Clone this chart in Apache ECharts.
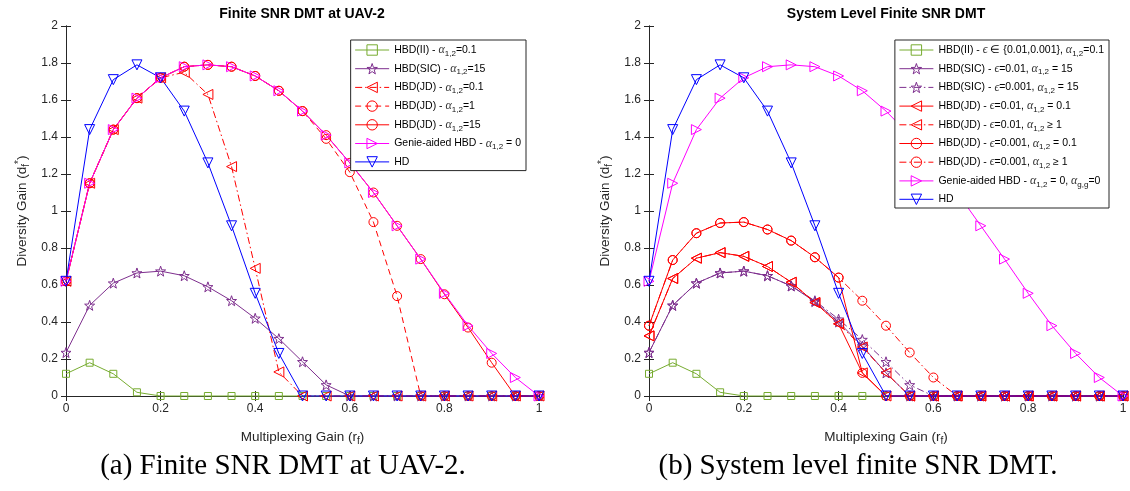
<!DOCTYPE html>
<html><head><meta charset="utf-8">
<script src="https://cdn.jsdelivr.net/npm/echarts/dist/echarts.min.js"></script>
<style>html,body{margin:0;padding:0;background:#fff}#c{width:1130px;height:491px}</style>
</head><body><div id="c"></div>
<script>
// ---- data ----
const r = [0,0.05,0.1,0.15,0.2,0.25,0.3,0.35,0.4,0.45,0.5,0.55,0.6,0.65,0.7,0.75,0.8,0.85,0.9,0.95,1];
const xTicks = [0,0.2,0.4,0.6,0.8,1];
const yTicks = [0,0.2,0.4,0.6,0.8,1,1.2,1.4,1.6,1.8,2];

// (a) Finite SNR DMT at UAV-2
const a_II    = [0.12,0.18,0.12,0.02,0,0,0,0,0,0,0,0,0,0,0,0,0,0,0,0,0];
const a_SIC15 = [0.235,0.49,0.61,0.665,0.675,0.65,0.59,0.515,0.42,0.31,0.185,0.06,0,0,0,0,0,0,0,0,0];
const a_JD01  = [0.62,1.15,1.44,1.61,1.72,1.75,1.63,1.24,0.69,0.13,0,0,0,0,0,0,0,0,0,0,0];
const a_JD1   = [0.62,1.15,1.44,1.61,1.72,1.78,1.79,1.78,1.73,1.65,1.54,1.39,1.21,0.94,0.54,0,0,0,0,0,0];
const a_JD15  = [0.62,1.15,1.44,1.61,1.72,1.78,1.79,1.78,1.73,1.65,1.54,1.41,1.26,1.10,0.92,0.74,0.55,0.37,0.18,0,0];
const a_Genie = [0.62,1.15,1.44,1.61,1.72,1.78,1.79,1.78,1.73,1.65,1.54,1.41,1.26,1.10,0.92,0.74,0.555,0.38,0.23,0.10,0];
const a_HD    = [0.62,1.44,1.71,1.79,1.72,1.54,1.26,0.92,0.555,0.23,0,0,0,0,0,0,0,0,0,0,0];

// (b) System level finite SNR DMT
const b_II        = [0.12,0.18,0.12,0.02,0,0,0,0,0,0,0,0,0,0,0,0,0,0,0,0,0];
const b_SIC_e01   = [0.235,0.49,0.61,0.665,0.675,0.65,0.595,0.51,0.40,0.27,0.125,0,0,0,0,0,0,0,0,0,0];
const b_SIC_e001  = [0.235,0.49,0.61,0.665,0.675,0.65,0.595,0.515,0.415,0.305,0.185,0.06,0,0,0,0,0,0,0,0,0];
const b_JD_e01_a01  = [0.325,0.635,0.745,0.775,0.755,0.70,0.615,0.505,0.39,0.125,0,0,0,0,0,0,0,0,0,0,0];
const b_JD_e01_a1   = [0.325,0.635,0.745,0.775,0.755,0.70,0.615,0.505,0.39,0.265,0.125,0,0,0,0,0,0,0,0,0,0];
const b_JD_e001_a01 = [0.38,0.735,0.88,0.935,0.94,0.90,0.84,0.75,0.64,0.125,0,0,0,0,0,0,0,0,0,0,0];
const b_JD_e001_a1  = [0.38,0.735,0.88,0.935,0.94,0.90,0.84,0.75,0.64,0.515,0.38,0.235,0.10,0,0,0,0,0,0,0,0];
const b_Genie = [0.62,1.15,1.44,1.61,1.72,1.78,1.79,1.78,1.73,1.65,1.54,1.41,1.26,1.10,0.92,0.74,0.555,0.38,0.23,0.10,0];
const b_HD    = [0.62,1.44,1.71,1.79,1.72,1.54,1.26,0.92,0.555,0.23,0,0,0,0,0,0,0,0,0,0,0];

const titles = ['Finite SNR DMT at UAV-2', 'System Level Finite SNR DMT'];
const captions = ['(a) Finite SNR DMT at UAV-2.', '(b) System level finite SNR DMT.'];
const xName = 'Multiplexing Gain (r{sub|f})';
const yName = 'Diversity Gain (d{sub|f}{sup|*})';

const namesA = ['a_II','a_SIC','a_JD01','a_JD1','a_JD15','a_Genie','HD'];
const labelsA = [
  'HBD(II) - {a|α}{s|1,2}=0.1',
  'HBD(SIC) - {a|α}{s|1,2}=15',
  'HBD(JD) - {a|α}{s|1,2}=0.1',
  'HBD(JD) - {a|α}{s|1,2}=1',
  'HBD(JD) - {a|α}{s|1,2}=15',
  'Genie-aided HBD - {a|α}{s|1,2} = 0',
  'HD'
];
const namesB = ['b_II','b_SIC1','b_SIC2','b_JD1','b_JD2','b_JD3','b_JD4','b_Genie','HD'];
const labelsB = [
  'HBD(II) - {a|ϵ} ∈ {0.01,0.001}, {a|α}{s|1,2}=0.1',
  'HBD(SIC) - {a|ϵ}=0.01, {a|α}{s|1,2} = 15',
  'HBD(SIC) - {a|ϵ}=0.001, {a|α}{s|1,2} = 15',
  'HBD(JD) - {a|ϵ}=0.01, {a|α}{s|1,2} = 0.1',
  'HBD(JD) - {a|ϵ}=0.01, {a|α}{s|1,2} ≥ 1',
  'HBD(JD) - {a|ϵ}=0.001, {a|α}{s|1,2} = 0.1',
  'HBD(JD) - {a|ϵ}=0.001, {a|α}{s|1,2} ≥ 1',
  'Genie-aided HBD - {a|α}{s|1,2} = 0, {a|α}{s|g,g}=0',
  'HD'
];
// ---- style ----
const C = {green:'#77AC30', purple:'#7E2F8E', red:'#FF0000', mag:'#FF00FF', blue:'#0000FF'};
const STAR = 'path://M0,-10L2.35,-3.24L9.51,-3.09L3.8,1.24L5.88,8.09L0,4L-5.88,8.09L-3.8,1.24L-9.51,-3.09L-2.35,-3.24Z';
const DASHDOT = [7,3,1.5,3];
const DASH = [6,4];
const AX = '#262626';
const FONT = '"Liberation Sans", Arial, Helvetica, sans-serif';

function S(name, data, g, color, symbol, size, dash, rot){
  return {
    type:'line', name, xAxisIndex:g*2, yAxisIndex:g*2,
    data: r.map((x,i)=>[x,data[i]]),
    symbol, symbolSize:size, symbolRotate:rot||0, showAllSymbol:true,
    itemStyle:{color:'rgba(255,255,255,0)', borderColor:color, borderWidth:1},
    lineStyle:{color, width:1, type:dash||'solid'},
    emphasis:{disabled:true}, silent:true, clip:false
  };
}
const sym = {sq:['rect',7,0], star:[STAR,10,0], tl:['triangle',10,90], tr:['triangle',10,-90], td:['triangle',10,180], ci:['circle',9,0]};
function SS(name,data,g,color,k,dash){ const s=sym[k]; return S(name,data,g,color,s[0],s[1],dash,s[2]); }

const series = [
  SS('a_II',a_II,0,C.green,'sq'),
  SS('a_SIC',a_SIC15,0,C.purple,'star'),
  SS('a_JD01',a_JD01,0,C.red,'tl',DASHDOT),
  SS('a_JD1',a_JD1,0,C.red,'ci',DASH),
  SS('a_JD15',a_JD15,0,C.red,'ci'),
  SS('a_Genie',a_Genie,0,C.mag,'tr'),
  SS('HD',a_HD,0,C.blue,'td'),
  SS('b_II',b_II,1,C.green,'sq'),
  SS('b_SIC1',b_SIC_e01,1,C.purple,'star'),
  SS('b_SIC2',b_SIC_e001,1,C.purple,'star',DASHDOT),
  SS('b_JD1',b_JD_e01_a01,1,C.red,'tl'),
  SS('b_JD2',b_JD_e01_a1,1,C.red,'tl',DASHDOT),
  SS('b_JD3',b_JD_e001_a01,1,C.red,'ci'),
  SS('b_JD4',b_JD_e001_a1,1,C.red,'ci',DASHDOT),
  SS('b_Genie',b_Genie,1,C.mag,'tr'),
  SS('HD',b_HD,1,C.blue,'td')
];

const labelMap = {};
namesA.forEach((n,i)=>labelMap[n]=labelsA[i]);
namesB.forEach((n,i)=>labelMap[n]=labelsB[i]);

const richLeg = {
  a:{fontFamily:'"Liberation Serif", "DejaVu Serif", serif', fontStyle:'italic', fontSize:12, color:'#333'},
  s:{fontFamily:FONT, fontSize:8, color:'#111', padding:[7,0,0,0]}
};
function legend(names, right){
  return {
    data:names, orient:'vertical', right, top:40, selectedMode:false,
    itemWidth:34, itemHeight:13, itemGap:5.2,
    backgroundColor:'#fff', borderColor:AX, borderWidth:1, borderRadius:0,
    padding:[4,5,3,4],
    lineStyle:{width:1},
    itemStyle:{color:'rgba(255,255,255,0)', borderWidth:1},
    textStyle:{fontFamily:FONT, fontSize:10.5, color:'#000', rich:richLeg},
    formatter: n => labelMap[n]
  };
}
const richAx = {
  sub:{fontFamily:FONT, fontSize:10, color:AX, padding:[7,0,0,0]},
  sup:{fontFamily:FONT, fontSize:10, color:AX, padding:[0,0,6,0]}
};
function xAx(g, top){
  return {
    type:'value', gridIndex:g, min:0, max:1, interval:0.2, position: top?'top':'bottom',
    axisLine:{show:true, lineStyle:{color:AX, width:1}},
    axisTick:{show:true, inside:true, length:5, lineStyle:{color:AX}},
    axisLabel:{show:!top, color:AX, fontFamily:FONT, fontSize:12, margin:7},
    splitLine:{show:false},
    name: top?'':xName, nameLocation:'middle', nameGap:33,
    nameTextStyle:{color:AX, fontFamily:FONT, fontSize:13.5, rich:richAx}
  };
}
function yAx(g, right){
  return {
    type:'value', gridIndex:g, min:0, max:2, interval:0.2, position: right?'right':'left',
    axisLine:{show:true, lineStyle:{color:AX, width:1}},
    axisTick:{show:true, inside:true, length:5, lineStyle:{color:AX}},
    axisLabel:{show:!right, color:AX, fontFamily:FONT, fontSize:12, margin:8},
    splitLine:{show:false},
    name: right?'':yName, nameLocation:'middle', nameGap:35,
    nameTextStyle:{color:AX, fontFamily:FONT, fontSize:13.5, rich:richAx}
  };
}

function txt(x,y,text,font){
  return {type:'text', x, y, silent:true, style:{text, font, fill:'#000', textAlign:'center', textVerticalAlign:'middle', align:'center', verticalAlign:'middle'}};
}

const option = {
  animation:false,
  backgroundColor:'#fff',
  grid:[
    {left:66, right:591, top:26, bottom:95, containLabel:false},
    {left:649, right:7, top:26, bottom:95, containLabel:false}
  ],
  xAxis:[xAx(0,false), xAx(0,true), xAx(1,false), xAx(1,true)],
  yAxis:[yAx(0,false), yAx(0,true), yAx(1,false), yAx(1,true)],
  legend:[legend(namesA, 604), legend(namesB, 21)],
  series,
  graphic:[
    txt(302,14,titles[0],'bold 14px '+FONT),
    txt(886,14,titles[1],'bold 14px '+FONT),
    txt(283,466,captions[0],'29px "Liberation Serif", serif'),
    txt(858,466,captions[1],'29px "Liberation Serif", serif')
  ]
};
const chart = echarts.init(document.getElementById('c'), null, {renderer:'canvas'});
chart.setOption(option);
</script>
</body></html>
